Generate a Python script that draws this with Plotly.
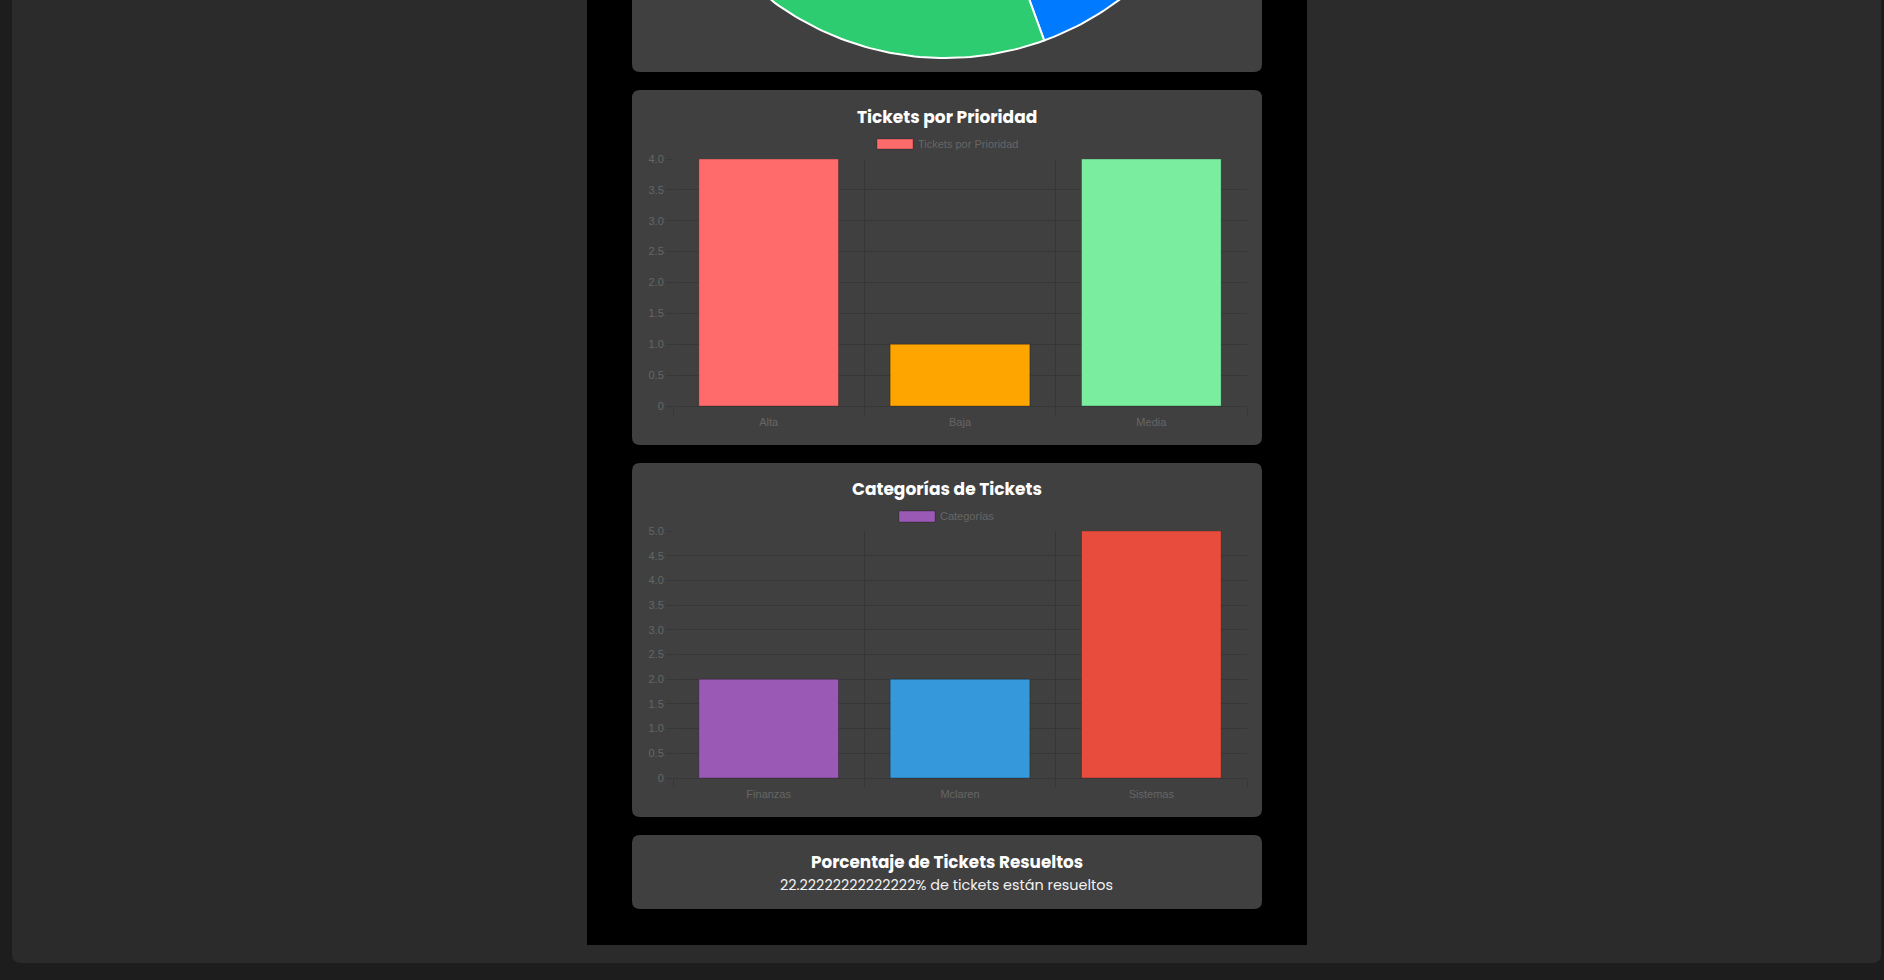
import math
import plotly.graph_objects as go

# ---------------- data ----------------
status_labels = ["Abierto", "Resuelto", "En Proceso"]
status_values = [4, 2, 3]
status_colors = ["#007bff", "#2ecc71", "#f1c40f"]

prio_labels = ["Alta", "Baja", "Media"]
prio_values = [4, 1, 4]
prio_colors = ["#ff6b6b", "#ffa500", "#7bed9f"]
prio_series = "Tickets por Prioridad"
prio_ticks = [0, 0.5, 1.0, 1.5, 2.0, 2.5, 3.0, 3.5, 4.0]
prio_ticktext = ["0", "0.5", "1.0", "1.5", "2.0", "2.5", "3.0", "3.5", "4.0"]

cat_labels = ["Finanzas", "Mclaren", "Sistemas"]
cat_values = [2, 2, 5]
cat_colors = ["#9b59b6", "#3498db", "#e74c3c"]
cat_series = "Categorías"
cat_ticks = [0, 0.5, 1.0, 1.5, 2.0, 2.5, 3.0, 3.5, 4.0, 4.5, 5.0]
cat_ticktext = ["0", "0.5", "1.0", "1.5", "2.0", "2.5", "3.0", "3.5", "4.0", "4.5", "5.0"]

resolved_text = "22.22222222222222% de tickets están resueltos"

# ---------------- layout helpers ----------------
W, H = 1884, 980
PAGE_BG = "#1d1d1d"
PANEL_BG = "#2b2b2b"
CARD_BG = "#404040"
GRID = "rgba(0,0,0,0.13)"
TICK_COL = "#666666"
HEAD_FONT = "Poppins, Lato, sans-serif"
TICK_FONT = "Arial, Liberation Sans, sans-serif"


def fx(x):
    return x / W


def fy(y):
    return 1 - y / H


def rrect(x0, y0, x1, y1, r, color):
    pts = [
        ("M", [(x0 + r, y0)]), ("L", [(x1 - r, y0)]), ("Q", [(x1, y0), (x1, y0 + r)]),
        ("L", [(x1, y1 - r)]), ("Q", [(x1, y1), (x1 - r, y1)]), ("L", [(x0 + r, y1)]),
        ("Q", [(x0, y1), (x0, y1 - r)]), ("L", [(x0, y0 + r)]), ("Q", [(x0, y0), (x0 + r, y0)]),
    ]
    s = ""
    for cmd, ps in pts:
        s += cmd + " " + " ".join(f"{fx(a):.6f},{fy(b):.6f}" for a, b in ps) + " "
    s += "Z"
    return dict(type="path", path=s, xref="paper", yref="paper", fillcolor=color,
                line=dict(width=0), layer="below")


fig = go.Figure()

# ---------------- pie (partially scrolled off, clipped by its card) ----------------
cx, cy, R = 945, -232, 290
total = sum(status_values)
start = 0.0
for lab, val, col in zip(status_labels, status_values, status_colors):
    span = val / total * 360.0
    n = max(int(span), 2)
    xs, ys = [cx], [cy]
    for k in range(n + 1):
        a = math.radians(start + span * k / n)
        xs.append(cx + R * math.sin(a))
        ys.append(cy - R * math.cos(a))
    xs.append(cx)
    ys.append(cy)
    fig.add_trace(go.Scatter(x=xs, y=ys, fill="toself", fillcolor=col, mode="lines",
                             line=dict(color="#ffffff", width=2), name=lab,
                             xaxis="x3", yaxis="y3", showlegend=False, hoverinfo="name"))
    start += span

# ---------------- bar charts ----------------
fig.add_trace(go.Bar(x=prio_labels, y=prio_values, name=prio_series,
                     marker=dict(color=prio_colors, line=dict(color="rgba(0,0,0,0.25)", width=1)),
                     xaxis="x", yaxis="y", showlegend=False))
fig.add_trace(go.Bar(x=cat_labels, y=cat_values, name=cat_series,
                     marker=dict(color=cat_colors, line=dict(color="rgba(0,0,0,0.25)", width=1)),
                     xaxis="x2", yaxis="y2", showlegend=False))

xcommon = dict(type="category", tickson="boundaries", ticks="outside", ticklen=8,
               tickcolor=GRID, showgrid=True, gridcolor=GRID, gridwidth=1, showline=False,
               zeroline=False, tickfont=dict(family=TICK_FONT, size=11, color=TICK_COL),
               ticklabelstandoff=8, automargin=False, fixedrange=True)
ycommon = dict(ticks="outside", ticklen=6, tickcolor=GRID, showgrid=True, gridcolor=GRID,
               gridwidth=1, zeroline=True, zerolinecolor=GRID, zerolinewidth=1, showline=False,
               tickfont=dict(family=TICK_FONT, size=11, color=TICK_COL), automargin=False,
               fixedrange=True)

shapes = [
    rrect(12, -20, 1881, 963, 9, PANEL_BG),
    dict(type="rect", xref="paper", yref="paper", x0=fx(587), x1=fx(1307), y0=fy(945), y1=1.02,
         fillcolor="#000000", line=dict(width=0), layer="below"),
    rrect(632, -20, 1262, 72, 8, CARD_BG),
    rrect(632, 90, 1262, 445, 8, CARD_BG),
    rrect(632, 463, 1262, 817, 8, CARD_BG),
    rrect(632, 835, 1262, 909, 8, CARD_BG),
    # legend swatches
    dict(type="rect", xref="paper", yref="paper", x0=fx(877), x1=fx(913), y0=fy(149), y1=fy(139),
         fillcolor=prio_colors[0], line=dict(color="rgba(0,0,0,0.25)", width=1)),
    dict(type="rect", xref="paper", yref="paper", x0=fx(899), x1=fx(935), y0=fy(522), y1=fy(511),
         fillcolor=cat_colors[0], line=dict(color="rgba(0,0,0,0.25)", width=1)),
]

annotations = [
    dict(text="<b>Tickets por Prioridad</b>", x=fx(947), y=fy(117), xref="paper", yref="paper",
         showarrow=False, xanchor="center", yanchor="middle",
         font=dict(family=HEAD_FONT, size=17, color="#ffffff")),
    dict(text=prio_series, x=fx(916), y=fy(144), xref="paper", yref="paper", showarrow=False,
         xanchor="left", yanchor="middle", font=dict(family=TICK_FONT, size=11, color=TICK_COL)),
    dict(text="<b>Categorías de Tickets</b>", x=fx(947), y=fy(489), xref="paper", yref="paper",
         showarrow=False, xanchor="center", yanchor="middle",
         font=dict(family=HEAD_FONT, size=17, color="#ffffff")),
    dict(text=cat_series, x=fx(938), y=fy(516), xref="paper", yref="paper", showarrow=False,
         xanchor="left", yanchor="middle", font=dict(family=TICK_FONT, size=11, color=TICK_COL)),
    dict(text="<b>Porcentaje de Tickets Resueltos</b>", x=fx(947), y=fy(862), xref="paper",
         yref="paper", showarrow=False, xanchor="center", yanchor="middle",
         font=dict(family=HEAD_FONT, size=16.8, color="#ffffff")),
    dict(text=resolved_text, x=fx(946), y=fy(885), xref="paper", yref="paper", showarrow=False,
         xanchor="center", yanchor="middle", font=dict(family=HEAD_FONT, size=14.4, color="#f2f2f2")),
]

fig.update_layout(
    width=W, height=H, autosize=False, margin=dict(l=0, r=0, t=0, b=0, pad=0),
    paper_bgcolor=PAGE_BG, plot_bgcolor="rgba(0,0,0,0)",
    bargap=0.27, showlegend=False,
    xaxis=dict(domain=[fx(673), fx(1247)], anchor="y", **xcommon),
    yaxis=dict(domain=[fy(406), fy(159)], anchor="x", range=[0, 4], tickvals=prio_ticks,
               ticktext=prio_ticktext, **ycommon),
    xaxis2=dict(domain=[fx(673), fx(1247)], anchor="y2", **xcommon),
    yaxis2=dict(domain=[fy(778), fy(531)], anchor="x2", range=[0, 5], tickvals=cat_ticks,
                ticktext=cat_ticktext, **ycommon),
    xaxis3=dict(domain=[fx(632), fx(1262)], anchor="y3", range=[632, 1262], visible=False,
                automargin=False, fixedrange=True),
    yaxis3=dict(domain=[fy(72), 1], anchor="x3", range=[72, 0], visible=False,
                automargin=False, fixedrange=True),
    shapes=shapes, annotations=annotations,
)

fig.write_html("out.html", config={"displayModeBar": False})
